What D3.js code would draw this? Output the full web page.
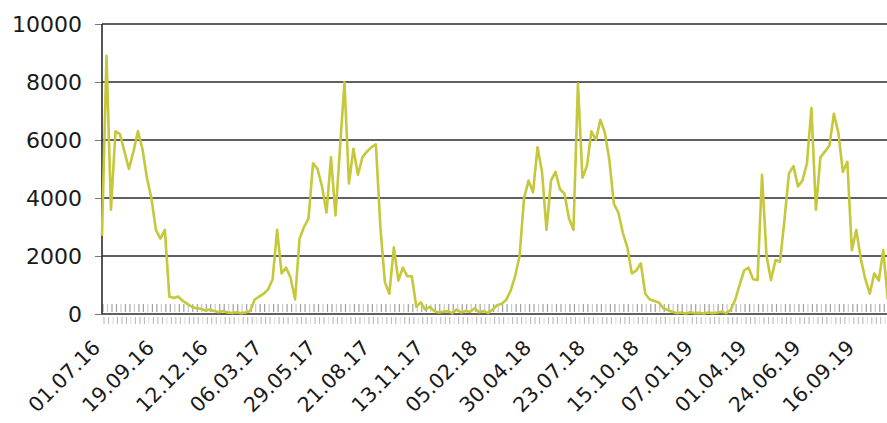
<!DOCTYPE html>
<html>
<head>
<meta charset="utf-8">
<script src="https://cdn.jsdelivr.net/npm/d3@7"></script>
<style>
	body { margin: 0; background: #fff; }
	svg { display: block; }
</style>
</head>
<body>
<div id="chart"></div>
<script>
// weekly values, first point 01.07.16 then every Monday
var values = [
	2700, 8900, 3600, 6300, 6200, 5600, 5000, 5600, 6300, 5700,
	4700, 4000, 2900, 2600, 2900, 600, 550, 600, 450, 350,
	250, 200, 180, 120, 150, 100, 60, 100, 50, 40,
	60, 30, 50, 100, 500, 600, 700, 850, 1200, 2900,
	1400, 1600, 1250, 500, 2600, 3000, 3300, 5200, 5000, 4400,
	3500, 5400, 3400, 5700, 8000, 4500, 5700, 4800, 5400, 5600,
	5750, 5850, 3000, 1100, 700, 2300, 1150, 1600, 1300, 1300,
	250, 400, 150, 250, 100, 50, 80, 100, 30, 150,
	50, 100, 80, 200, 60, 100, 40, 150, 300, 350,
	480, 800, 1300, 2000, 4000, 4600, 4200, 5750, 4900, 2900,
	4600, 4900, 4300, 4150, 3300, 2900, 7950, 4700, 5100, 6300,
	6000, 6700, 6250, 5300, 3800, 3500, 2800, 2300, 1400, 1500,
	1750, 700, 500, 450, 400, 200, 140, 80, 30, 50,
	20, 60, 30, 40, 20, 50, 30, 50, 80, 30,
	140, 480, 1000, 1500, 1600, 1200, 1170, 4800, 2000, 1170,
	1860, 1800, 3250, 4850, 5100, 4400, 4600, 5200, 7100, 3600,
	5400, 5600, 5800, 6900, 6250, 4900, 5250, 2200, 2900, 1900,
	1200, 700, 1400, 1150, 2200, 500
];

var tickLabels = [
	"01.07.16", "19.09.16", "12.12.16", "06.03.17", "29.05.17",
	"21.08.17", "13.11.17", "05.02.18", "30.04.18", "23.07.18",
	"15.10.18", "07.01.19", "01.04.19", "24.06.19", "16.09.19"
];

var yTicks = [0, 2000, 4000, 6000, 8000, 10000];

var margin = {
	top: 24,
	right: 0,
	bottom: 109,
	left: 102
};

var W = 887, H = 423;
var step = 4.49;
var formatDate = d3.utcFormat("%d.%m.%y");

// categories: the first day, then the following Mondays
var firstMonday = new Date(Date.UTC(2016, 6, 4));
var categories = ["01.07.16"].concat(
	d3.range(values.length - 1).map(k => formatDate(d3.utcMonday.offset(firstMonday, k)))
);

var data = categories.map((c, i) => ({cat: c, value: values[i]}));

var svg = d3.select("#chart").append("svg")
	.attr("width", W)
	.attr("height", H)
	.attr("viewBox", [0, 0, W, H]);

var x = d3.scalePoint()
	.domain(categories)
	.range([margin.left, margin.left + step * (categories.length - 1)]);

var y = d3.scaleLinear()
	.domain([0, 10000])
	.range([H - margin.bottom, margin.top]);

// strip of tiny category marks around the zero line
var strip = svg.append("g");
strip.selectAll("line.up")
	.data(categories)
	.join("line")
	.attr("class", "up")
	.attr("x1", d => x(d) + 1)
	.attr("x2", d => x(d) + 1)
	.attr("y1", y(0) - 10)
	.attr("y2", y(0) - 2)
	.attr("stroke", "#8a8a8a")
	.attr("stroke-width", 1.2)
	.attr("stroke-opacity", (d, i) => i % 3 == 1 ? 0.45 : 0.8);
strip.selectAll("line.down")
	.data(categories)
	.join("line")
	.attr("class", "down")
	.attr("x1", d => x(d) + 2)
	.attr("x2", d => x(d) + 2)
	.attr("y1", y(0) + 3)
	.attr("y2", y(0) + 10)
	.attr("stroke", "#a0a0a0")
	.attr("stroke-width", 1.1)
	.attr("stroke-opacity", (d, i) => i % 4 == 2 ? 0.35 : 0.7);

// y axis with grid
var yAxis = svg.append("g")
	.attr("transform", `translate(${margin.left},0)`)
	.call(d3.axisLeft(y)
		.tickValues(yTicks)
		.tickFormat(d3.format("d"))
		.tickSize(7)
		.tickPadding(13));
yAxis.select(".domain").remove();
yAxis.selectAll(".tick line").attr("stroke", "#777");
yAxis.selectAll(".tick text")
	.attr("fill", "#1a1a1a")
	.style("font", "22px 'DejaVu Sans', sans-serif");

svg.append("g")
	.selectAll("line")
	.data(yTicks)
	.join("line")
	.attr("x1", margin.left)
	.attr("x2", W)
	.attr("y1", d => y(d))
	.attr("y2", d => y(d))
	.attr("stroke", "#2b2b2b")
	.attr("stroke-width", 1.6);

// left frame
svg.append("line")
	.attr("x1", margin.left)
	.attr("x2", margin.left)
	.attr("y1", y(10000))
	.attr("y2", y(0))
	.attr("stroke", "#2b2b2b")
	.attr("stroke-width", 1.6);

// x axis labels, rotated
var xAxis = svg.append("g")
	.attr("transform", `translate(0,${y(0)})`)
	.call(d3.axisBottom(x)
		.tickValues(tickLabels)
		.tickSize(0));
xAxis.select(".domain").remove();
xAxis.selectAll(".tick text")
	.attr("text-anchor", "end")
	.attr("fill", "#1a1a1a")
	.attr("dy", null)
	.attr("y", null)
	.attr("transform", "translate(-1,35) rotate(-45)")
	.style("font", "20.5px 'DejaVu Sans', sans-serif");

// the series
var line = d3.line()
	.x(d => x(d.cat))
	.y(d => y(d.value));

svg.append("path")
	.datum(data)
	.attr("fill", "none")
	.attr("stroke", "#c4c83a")
	.attr("stroke-width", 2.6)
	.attr("stroke-linejoin", "round")
	.attr("d", line);
</script>
</body>
</html>
